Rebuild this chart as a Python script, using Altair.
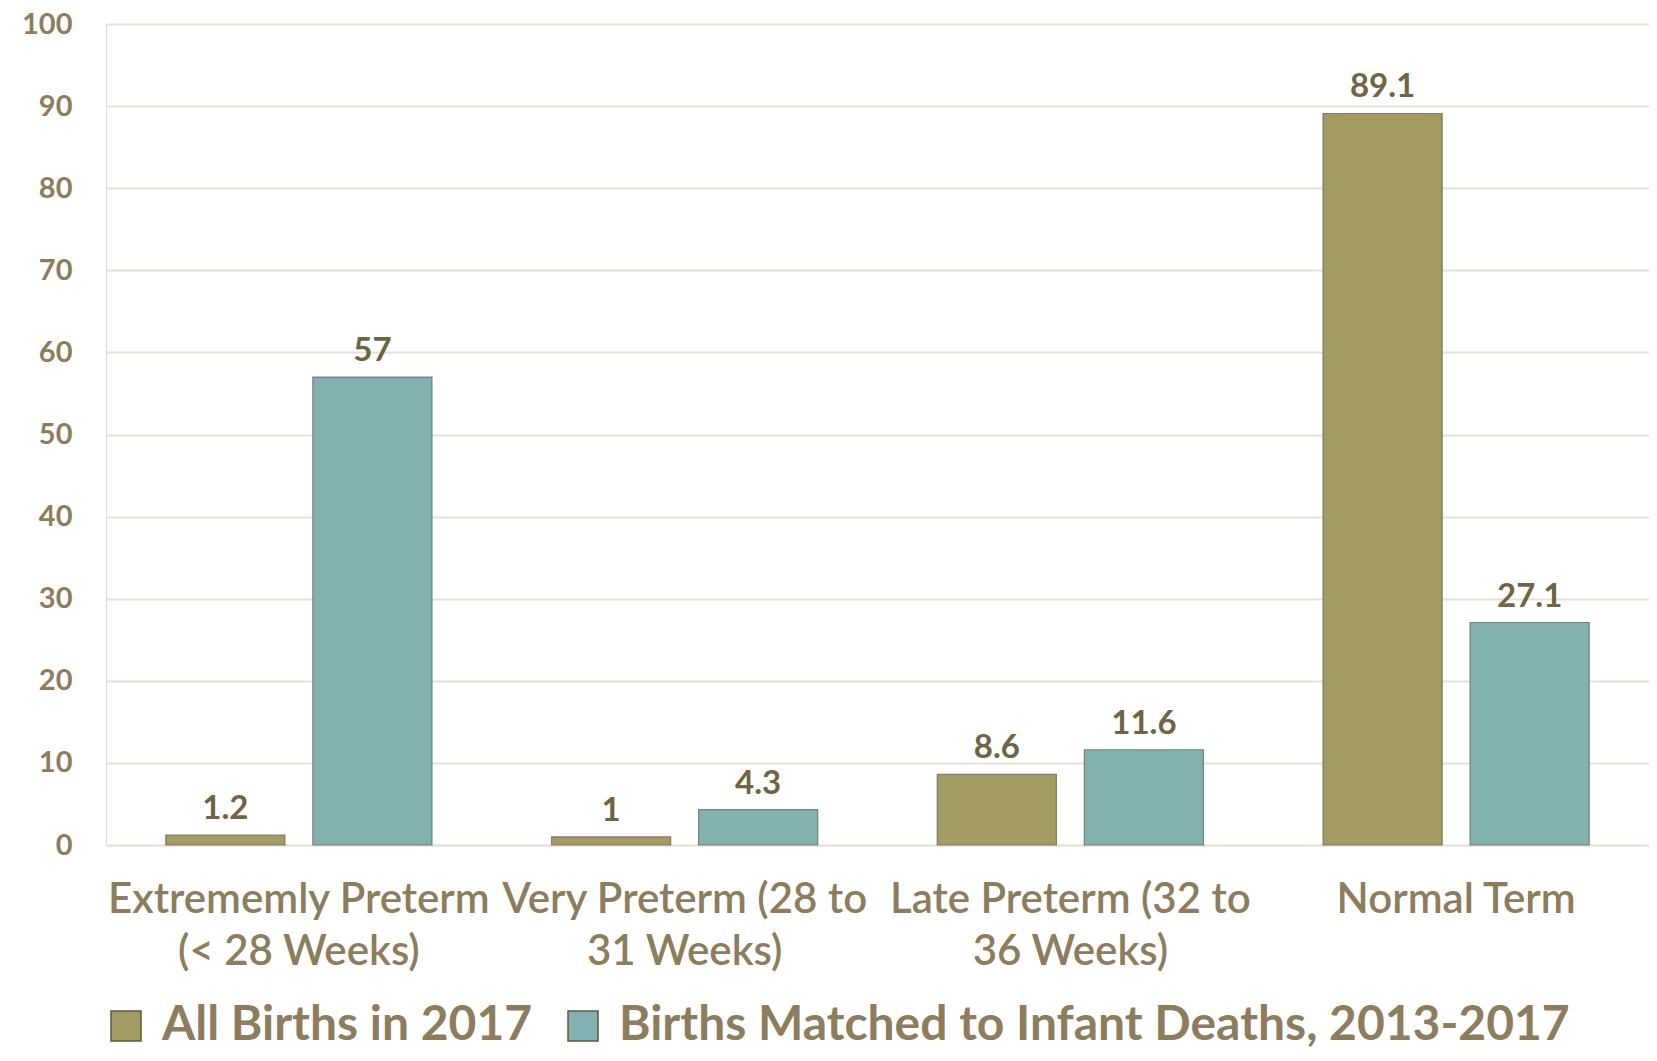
import altair as alt
import pandas as pd

categories = [
    "Extrememly Preterm\n(< 28 Weeks)",
    "Very Preterm (28 to\n31 Weeks)",
    "Late Preterm (32 to\n36 Weeks)",
    "Normal Term",
]
series = ["All Births in 2017", "Births Matched to Infant Deaths, 2013-2017"]
all_births = [1.2, 1.0, 8.6, 89.1]
matched = [57, 4.3, 11.6, 27.1]
labels_all = ["1.2", "1", "8.6", "89.1"]
labels_matched = ["57", "4.3", "11.6", "27.1"]

rows = []
for c, v, l in zip(categories, all_births, labels_all):
    rows.append({"cat": c, "series": series[0], "value": v, "label": l})
for c, v, l in zip(categories, matched, labels_matched):
    rows.append({"cat": c, "series": series[1], "value": v, "label": l})
df = pd.DataFrame(rows)

FONT = "Lato"
TXT = "#8B7D5E"
VAL = "#6E6446"
GRID = "#E6E2D6"

x = alt.X("cat:N", sort=categories, title=None,
          scale=alt.Scale(paddingInner=0.31, paddingOuter=0.155),
          axis=alt.Axis(labelExpr="split(datum.label, '\\n')", labelAngle=0,
                        labelFont=FONT, labelFontSize=42, labelFontWeight=600,
                        labelColor=TXT, labelLineHeight=52, labelPadding=34,
                        ticks=False, domain=True, domainColor=GRID, domainWidth=2,
                        labelLimit=0))
xo = alt.XOffset("series:N", sort=series, scale=alt.Scale(paddingInner=0.19, paddingOuter=0))
y = alt.Y("value:Q", title=None,
          scale=alt.Scale(domain=[0, 100], nice=False),
          axis=alt.Axis(values=list(range(0, 101, 10)), labelFont=FONT, labelFontSize=29,
                        labelFontWeight="bold", labelColor=TXT, labelPadding=34,
                        ticks=False, domain=False, gridColor=GRID, gridWidth=2))

color = alt.Color("series:N", sort=series, title=None,
                  scale=alt.Scale(domain=series, range=["#A29B63", "#82B2B0"]),
                  legend=alt.Legend(orient="none", legendX=-4, legendY=978,
                                    direction="horizontal", symbolType="square",
                                    symbolSize=900, symbolStrokeColor="#5E5A40",
                                    symbolStrokeWidth=1.5, labelFont=FONT,
                                    labelFontSize=48, labelFontWeight="bold",
                                    labelColor=TXT, labelOffset=12, columnPadding=26,
                                    labelLimit=0))

bars = alt.Chart(df).mark_bar(strokeWidth=1.2, stroke="#6A6A55", strokeOpacity=0.8).encode(
    x=x, xOffset=xo, y=y, color=color)

text = alt.Chart(df).mark_text(dy=-26, font=FONT, fontSize=33, fontWeight="bold", color=VAL).encode(
    x=alt.X("cat:N", sort=categories), xOffset=alt.XOffset("series:N", sort=series),
    y="value:Q", text="label:N")

chart = alt.layer(bars, text).properties(
    width=1543, height=821,
    autosize=alt.AutoSizeParams(type="none"),
    padding={"left": 98, "top": 16, "right": 0, "bottom": 208},
).configure_view(stroke=None).configure(background="white")

chart.save("out.html", embed_options={"renderer": "svg", "actions": False})
